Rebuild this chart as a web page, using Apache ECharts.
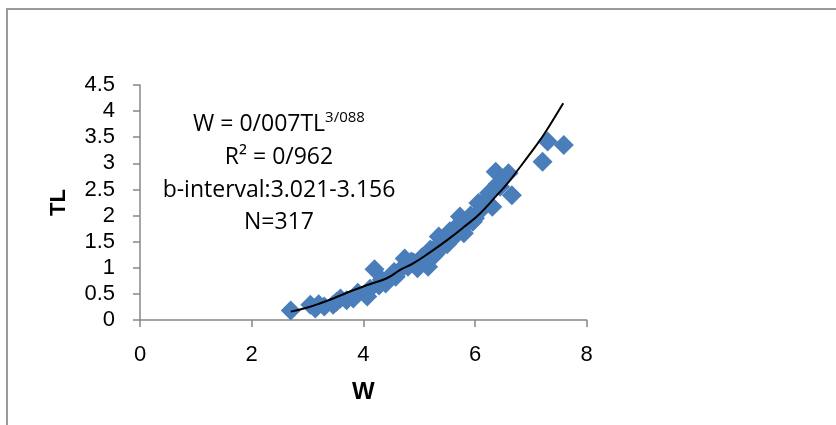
<!DOCTYPE html>
<html>
<head>
<meta charset="utf-8">
<style>
  html, body { margin: 0; padding: 0; background: #fff; }
  #chart { width: 836px; height: 425px; }
</style>
<script src="https://cdn.jsdelivr.net/npm/echarts@6/dist/echarts.min.js"></script>
</head>
<body>
<div id="chart"></div>
<script>
// scatter points (W, TL)
var pointW = [2.70, 3.05, 3.14, 3.20, 3.30, 3.46, 3.52, 3.59, 3.70, 3.82,
              3.90, 4.07, 4.12, 4.20, 4.28, 4.33, 4.40, 4.50, 4.55, 4.58,
              4.65, 4.74, 4.80, 4.86, 4.90, 4.97, 5.05, 5.10, 5.16, 5.20,
              5.25, 5.28, 5.35, 5.38, 5.41, 5.45, 5.50, 5.55, 5.61, 5.65,
              5.70, 5.73, 5.80, 5.85, 5.92, 5.96, 6.00, 6.06, 6.10, 6.15,
              6.18, 6.25, 6.31, 6.37, 6.40, 6.45, 6.50, 6.60, 6.66, 7.21,
              7.30, 7.59];
var pointTL = [0.18, 0.29, 0.22, 0.30, 0.26, 0.29, 0.35, 0.41, 0.38, 0.41,
               0.52, 0.45, 0.60, 0.97, 0.66, 0.77, 0.70, 0.85, 0.92, 0.83,
               0.95, 1.18, 1.02, 1.12, 1.10, 0.99, 1.20, 1.14, 1.02, 1.35,
               1.22, 1.25, 1.60, 1.48, 1.40, 1.55, 1.45, 1.70, 1.72, 1.62,
               1.82, 1.98, 1.66, 1.85, 2.00, 1.88, 1.95, 2.24, 2.10, 2.20,
               2.30, 2.43, 2.17, 2.84, 2.60, 2.55, 2.71, 2.81, 2.39, 3.03,
               3.42, 3.35];

// fitted curve
var curveW  = [2.70, 3.00, 3.23, 3.50, 3.82, 4.10, 4.42, 4.66, 4.90, 5.20,
               5.50, 5.80, 6.09, 6.40, 6.57, 6.80, 6.99, 7.20, 7.35, 7.58];
var curveTL = [0.16, 0.24, 0.32, 0.43, 0.57, 0.68, 0.80, 0.96, 1.09, 1.30,
               1.53, 1.78, 2.04, 2.40, 2.60, 2.92, 3.19, 3.50, 3.75, 4.15];

var xTicks = [0, 2, 4, 6, 8];
var yTicks = [0, 0.5, 1, 1.5, 2, 2.5, 3, 3.5, 4, 4.5];

var fitLines = ['{m|W = 0/007TL}{sup|3/088}', '{m|R² = 0/962}', '{m|b-interval:3.021-3.156}', '{m|N=317}'];

var myChart = echarts.init(document.getElementById('chart'), null, { renderer: 'canvas' });

var pts = pointW.map(function (w, i) { return [w, pointTL[i]]; });
var crv = curveW.map(function (w, i) { return [w, curveTL[i]]; });

var axisCol = '#878787';
var labelFont = 'Liberation Sans';

var graphics = [
    {
        type: 'rect',
        shape: { x: 7, y: 9, width: 840, height: 430 },
        style: { fill: 'none', stroke: '#9a9a9a', lineWidth: 2 }
    }
];
var lineY = [124, 157, 190, 222];
fitLines.forEach(function (t, i) {
    graphics.push({
        type: 'text',
        x: 279,
        y: lineY[i],
        style: {
            text: t,
            align: 'center',
            verticalAlign: 'middle',
            fill: '#000',
            rich: {
                m: { fontFamily: 'Open Sans', fontSize: 23, lineHeight: 27, color: '#000' },
                sup: { fontFamily: 'Open Sans', fontSize: 15, lineHeight: 17, verticalAlign: 'top', color: '#000' }
            }
        }
    });
});

var option = {
    animation: false,
    backgroundColor: '#fff',
    graphic: graphics,
    grid: {
        left: 140,
        top: 85,
        width: 446.7,
        height: 235,
        containLabel: false,
        outerBoundsMode: 'none'
    },
    xAxis: {
        type: 'value',
        min: xTicks[0],
        max: xTicks[xTicks.length - 1],
        interval: 2,
        name: 'W',
        nameLocation: 'middle',
        nameGap: 60,
        nameTextStyle: { fontFamily: labelFont, fontWeight: 'bold', fontSize: 24, color: '#000' },
        axisLine: { lineStyle: { color: axisCol, width: 1.5 } },
        axisTick: { show: true, inside: false, length: 7, lineStyle: { color: axisCol, width: 1.5 } },
        axisLabel: { fontFamily: labelFont, fontSize: 22, color: '#000', margin: 24 },
        splitLine: { show: false }
    },
    yAxis: {
        type: 'value',
        min: yTicks[0],
        max: yTicks[yTicks.length - 1],
        interval: 0.5,
        name: 'TL',
        nameLocation: 'middle',
        nameRotate: 90,
        nameGap: 70,
        nameTextStyle: { fontFamily: labelFont, fontWeight: 'bold', fontSize: 22, color: '#000' },
        axisLine: { show: true, lineStyle: { color: axisCol, width: 1.5 } },
        axisTick: { show: true, inside: false, length: 7, lineStyle: { color: axisCol, width: 1.5 } },
        axisLabel: { fontFamily: labelFont, fontSize: 22, color: '#000', margin: 25 },
        splitLine: { show: false }
    },
    series: [
        {
            name: 'points',
            type: 'scatter',
            symbol: 'diamond',
            symbolSize: 20,
            itemStyle: { color: '#4a7ebb', opacity: 1 },
            data: pts,
            z: 2
        },
        {
            name: 'fit',
            type: 'line',
            smooth: true,
            showSymbol: false,
            lineStyle: { color: '#000', width: 2 },
            data: crv,
            z: 3
        }
    ]
};

myChart.setOption(option);
window.addEventListener('resize', myChart.resize);
</script>
</body>
</html>
